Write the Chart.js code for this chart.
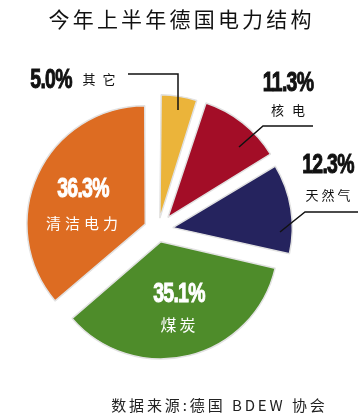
<!DOCTYPE html>
<html lang="zh-CN">
<head>
<meta charset="utf-8">
<script src="https://cdn.jsdelivr.net/npm/chart.js@4.4.1/dist/chart.umd.min.js"></script>
<style>
  html, body { margin: 0; padding: 0; background: #fff; }
  canvas { display: block; }
</style>
</head>
<body>
<canvas id="pie" width="362" height="419"></canvas>
<script>
// ==================== Data ====================
const categories = ['其它', '核电', '天然气', '煤炭', '清洁电力'];
const shares = [5.0, 11.3, 12.3, 35.1, 36.3];
const shareLabels = ['5.0%', '11.3%', '12.3%', '35.1%', '36.3%'];

const titleText = '今年上半年德国电力结构';
const sourceText = '数据来源:德国 BDEW 协会';

// ==================== Styles ====================
const sliceColors = ['#ebb43a', '#a30d27', '#25235e', '#4e8c2a', '#dd6c22'];
const sliceOffsets = [48, 64, 60, 48, 56];

const CJK = '"Noto Sans CJK SC", "Noto Sans", sans-serif';
const HEAVY = '"Liberation Sans", Arial, sans-serif';

// where each label sits (pct text, name text, leader line)
const labelLayout = [
  { pct: [51, 80], name: [99, 79], nameSpacing: 7, color: '#111', line: [[128, 74], [178, 74], [178, 110]] },
  { pct: [288, 83], name: [288, 110], nameSpacing: 8, color: '#111', line: [[313, 126], [263, 126], [239, 147]] },
  { pct: [328, 165], name: [328, 195], nameSpacing: 3, color: '#111', line: [[358, 212], [305, 212], [280, 232]] },
  { pct: [179, 294], name: [178, 325], nameSpacing: 3, color: '#fff', nameSize: 16 },
  { pct: [83, 189], name: [82, 223], nameSpacing: 4, color: '#fff', nameSize: 15 }
];

function drawText(ctx, text, x, y, font, color, spacing) {
  ctx.font = font;
  ctx.fillStyle = color;
  ctx.letterSpacing = (spacing || 0) + 'px';
  ctx.textAlign = 'center';
  ctx.textBaseline = 'middle';
  ctx.fillText(text, x + (spacing || 0) / 2, y);
}

// condensed, heavy percent figures
function drawPct(ctx, text, x, y, color) {
  ctx.save();
  ctx.translate(x, y);
  ctx.scale(0.72, 1);
  ctx.font = 'bold 27px ' + HEAVY;
  ctx.letterSpacing = '-1px';
  ctx.fillStyle = color;
  ctx.strokeStyle = color;
  ctx.lineWidth = 1;
  ctx.textAlign = 'center';
  ctx.textBaseline = 'middle';
  ctx.fillText(text, 0, 1);
  ctx.strokeText(text, 0, 1);
  ctx.restore();
}

// ==================== Labels + title ====================
const labelPlugin = {
  id: 'sliceLabels',
  afterDatasetsDraw(chart) {
    const ctx = chart.ctx;
    ctx.save();

    drawText(ctx, titleText, 180, 19, '400 21px ' + CJK, '#111', 3.2);
    drawText(ctx, sourceText, 218, 405, '400 15px ' + CJK, '#222', 2.9);

    labelLayout.forEach((lay, i) => {
      if (lay.line) {
        ctx.beginPath();
        ctx.moveTo(lay.line[0][0], lay.line[0][1]);
        lay.line.slice(1).forEach(p => ctx.lineTo(p[0], p[1]));
        ctx.lineWidth = 1.5;
        ctx.strokeStyle = '#111';
        ctx.stroke();
      }
      drawPct(ctx, shareLabels[i], lay.pct[0], lay.pct[1], lay.color);
      drawText(ctx, categories[i], lay.name[0], lay.name[1], '400 ' + (lay.nameSize || 13) + 'px ' + CJK, lay.color, lay.nameSpacing);
    });

    ctx.restore();
  }
};

// ==================== Chart ====================
const ctx = document.getElementById('pie').getContext('2d');
new Chart(ctx, {
  type: 'pie',
  data: {
    labels: categories,
    datasets: [{
      data: shares,
      backgroundColor: sliceColors,
      borderColor: '#e2e2e2',
      borderWidth: 1.5,
      offset: sliceOffsets
    }]
  },
  options: {
    responsive: false,
    animation: false,
    radius: 115,
    layout: { padding: { left: 0, right: 46, top: 41, bottom: 0 } },
    plugins: {
      legend: { display: false },
      tooltip: { enabled: false },
      title: { display: false }
    }
  },
  plugins: [labelPlugin]
});
</script>
</body>
</html>
